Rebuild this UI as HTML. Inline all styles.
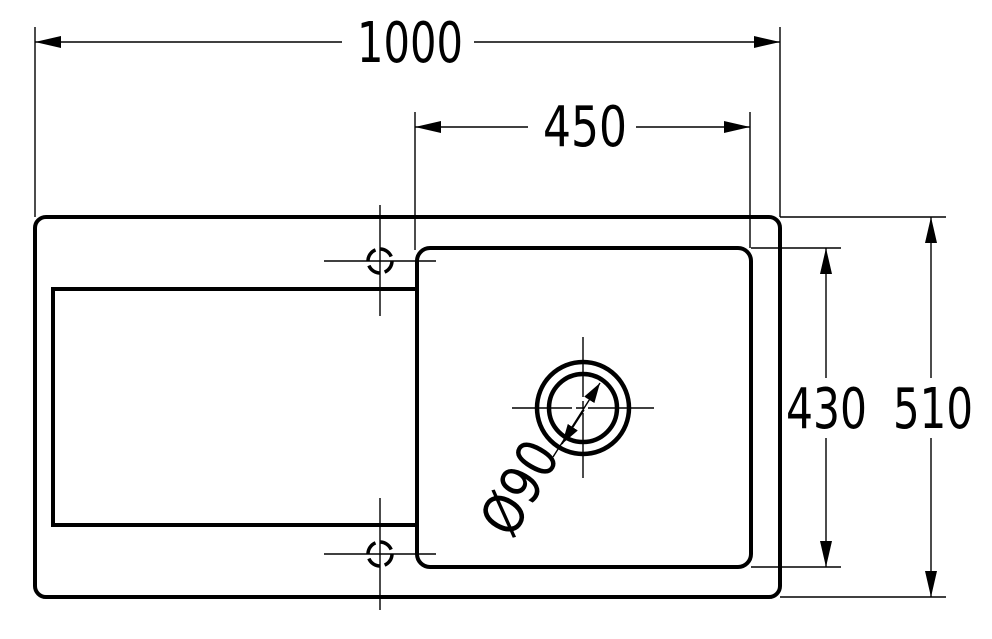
<!DOCTYPE html>
<html><head><meta charset="utf-8"><style>html,body{margin:0;padding:0;background:#fff}</style></head>
<body>
<svg width="992" height="634" viewBox="0 0 992 634" xmlns="http://www.w3.org/2000/svg" font-family="'DejaVu Sans','Liberation Sans',sans-serif">
<defs>
<marker id="a" viewBox="0 0 26 12" refX="26" refY="6" markerWidth="26" markerHeight="12" markerUnits="userSpaceOnUse" orient="auto-start-reverse"><path d="M0,0L26,6L0,12z" fill="#000"/></marker>
<marker id="b" viewBox="0 0 20 12" refX="20" refY="6" markerWidth="20" markerHeight="12" markerUnits="userSpaceOnUse" orient="auto-start-reverse"><path d="M0,0L20,6L0,12z" fill="#000"/></marker>
</defs>
<g stroke="#000" fill="none" stroke-width="1.4">
<line x1="35" y1="27" x2="35" y2="217"/>
<line x1="780" y1="27" x2="780" y2="217"/>
<line x1="415" y1="112" x2="415" y2="250"/>
<line x1="750" y1="112" x2="750" y2="248"/>
<line x1="780" y1="217" x2="946" y2="217"/>
<line x1="780" y1="597" x2="946" y2="597"/>
<line x1="751" y1="248" x2="841" y2="248"/>
<line x1="751" y1="567" x2="841" y2="567"/>
<line x1="35" y1="42" x2="342" y2="42" marker-start="url(#a)"/>
<line x1="474" y1="42" x2="780" y2="42" marker-end="url(#a)"/>
<line x1="415" y1="127" x2="528" y2="127" marker-start="url(#a)"/>
<line x1="636" y1="127" x2="750" y2="127" marker-end="url(#a)"/>
<line x1="826" y1="248" x2="826" y2="378" marker-start="url(#a)"/>
<line x1="826" y1="438" x2="826" y2="567" marker-end="url(#a)"/>
<line x1="931" y1="217" x2="931" y2="378" marker-start="url(#a)"/>
<line x1="931" y1="438" x2="931" y2="597" marker-end="url(#a)"/>
<line x1="324" y1="261" x2="436" y2="261"/><line x1="380" y1="205" x2="380" y2="316"/>
<line x1="324" y1="554" x2="436" y2="554"/><line x1="380" y1="498" x2="380" y2="610"/>
<line x1="512" y1="408" x2="654" y2="408" stroke-dasharray="60 4 8 4 70"/><line x1="583" y1="337" x2="583" y2="478" stroke-dasharray="60 4 8 4 70"/>
<line x1="553" y1="457" x2="600" y2="383" marker-end="url(#b)"/>
<line x1="584" y1="410" x2="562" y2="444" marker-end="url(#b)"/>
</g>
<g stroke="#000" fill="none" stroke-width="4">
<rect x="35" y="217" width="745" height="380" rx="11"/>
<rect x="417" y="248" width="334" height="319" rx="13"/>
<polyline points="417,289 53,289 53,525 417,525"/>
<circle cx="583" cy="408" r="46" stroke-width="4.5"/>
<circle cx="583" cy="408" r="34" stroke-width="4.5"/>
<circle cx="380" cy="261" r="12" stroke-width="3.5" stroke-dasharray="14 4.8"/>
<circle cx="380" cy="554" r="12" stroke-width="3.5" stroke-dasharray="14 4.8"/>
</g>
<g fill="#000" font-size="56">
<text x="357" y="62" textLength="106" lengthAdjust="spacingAndGlyphs">1000</text>
<text x="543" y="146" textLength="84" lengthAdjust="spacingAndGlyphs">450</text>
<text x="786" y="428" textLength="81" lengthAdjust="spacingAndGlyphs">430</text>
<text x="893" y="428" textLength="80" lengthAdjust="spacingAndGlyphs">510</text>
<text x="0" y="0" transform="translate(512,540) rotate(-60)" textLength="98" lengthAdjust="spacingAndGlyphs">Ø90</text>
</g>
</svg>
</body></html>
